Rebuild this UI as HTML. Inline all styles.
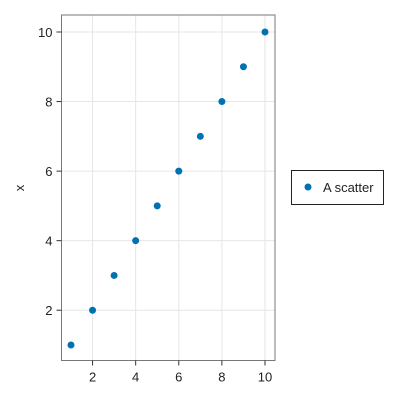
<!DOCTYPE html>
<html><head><style>body{margin:0;background:#fff}svg{display:block;font-family:"Liberation Sans",sans-serif}</style></head>
<body>
<svg id="c" width="400" height="400"></svg>
<script>
const xs=[1,2,3,4,5,6,7,8,9,10];
const ys=[1,2,3,4,5,6,7,8,9,10];
const xTicks=[2,4,6,8,10];
const yTicks=[2,4,6,8,10];
const seriesName="A scatter";
const L=61.5,R=275,T=15,B=360.5;
const sx=v=>71+(v-1)*(265-71)/9;
const sy=v=>345-(v-1)*(345-32)/9;
const svg=document.getElementById('c');const NS="http://www.w3.org/2000/svg";
function mk(t,a,p){const e=document.createElementNS(NS,t);for(const k in a)e.setAttribute(k,a[k]);(p||svg).appendChild(e);return e;}
const g=mk('g',{});


xTicks.forEach(v=>{mk('line',{x1:sx(v),x2:sx(v),y1:T,y2:B,stroke:'#e6e6e6'},g);});
yTicks.forEach(v=>{mk('line',{x1:L,x2:R,y1:sy(v),y2:sy(v),stroke:'#e6e6e6'},g);});
const fr=mk('rect',{x:L,y:T,width:R-L,height:B-T,fill:'none',stroke:'#777','stroke-width':1});


xTicks.forEach(v=>{mk('line',{x1:sx(v),x2:sx(v),y1:B,y2:B+5,stroke:'#333'});
const t=mk('text',{x:sx(v),y:B+21,'text-anchor':'middle','font-size':13,fill:'#222'});t.textContent=v;

});
yTicks.forEach(v=>{mk('line',{x1:L-5,x2:L,y1:sy(v),y2:sy(v),stroke:'#333'});
const t=mk('text',{x:L-9,y:sy(v)+5,'text-anchor':'end','font-size':13,fill:'#222'});t.textContent=v;

});
xs.forEach((x,i)=>{const c=mk('circle',{cx:sx(x),cy:sy(ys[i]),r:3.5,fill:'#0072b2'});

});
const yl=mk('text',{x:24,y:188,'text-anchor':'middle','font-size':13,fill:'#222',transform:'rotate(-90 24 188)'});yl.textContent='x';


const lg=mk('g',{});


mk('rect',{x:291.5,y:170.5,width:92,height:34,fill:'#fff',stroke:'#222'},lg);
mk('circle',{cx:308,cy:187,r:3.5,fill:'#0072b2'},lg);
const lt=mk('text',{x:323,y:192,'font-size':13,fill:'#222'},lg);lt.textContent=seriesName;


</script>
</body></html>
